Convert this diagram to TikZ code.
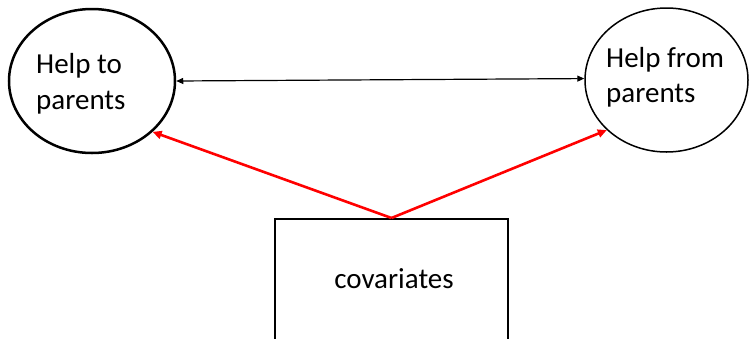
\documentclass[tikz,border=0pt]{standalone}
\usepackage{fontspec}
\setmainfont{Carlito}
\usetikzlibrary{shapes.geometric,arrows.meta}
\begin{document}
\begin{tikzpicture}[x=1pt,y=-1pt,
  oval/.style={draw=black,ellipse,inner sep=0pt},
  label text/.style={inner sep=0pt,anchor=base west,font=\fontsize{29}{35}\selectfont},
  link/.style={draw=black,line width=1.2pt,{Triangle[length=7pt,width=6pt]}-{Triangle[length=7pt,width=6pt]}},
  effect/.style={draw=red,line width=2.6pt,-{Triangle[length=9pt,width=8pt]}}]
  \clip (0,0) rectangle (749,338);
  \fill[white] (0,0) rectangle (749,338);
  % outcome ellipses
  \node[oval,line width=2.5pt,minimum width=166pt,minimum height=144pt] (L) at (92,81) {};
  \node[oval,line width=1.5pt,minimum width=163pt,minimum height=144pt] (R) at (666.5,80) {};
  \node[label text] (Lt1) at (36,73) {Help to};
  \node[label text] (Lt2) at (36,109) {parents};
  \node[label text] (Rt1) at (606,67) {Help from};
  \node[label text] (Rt2) at (606,102) {parents};
  % covariates box
  \node[draw=black,line width=2pt,minimum width=233pt,minimum height=140pt,inner sep=0pt,anchor=north] (C) at (391.5,218) {};
  \node[inner sep=0pt,anchor=base,font=\fontsize{29}{35}\selectfont] (Ct) at (394,288) {covariates};
  % connectors
  \draw[link] (L.0) -- (R.179.3);
  \draw[effect] (C.north) -- (L.-40.4);
  \draw[effect] (C.north) -- (R.220.5);
\end{tikzpicture}
\end{document}
